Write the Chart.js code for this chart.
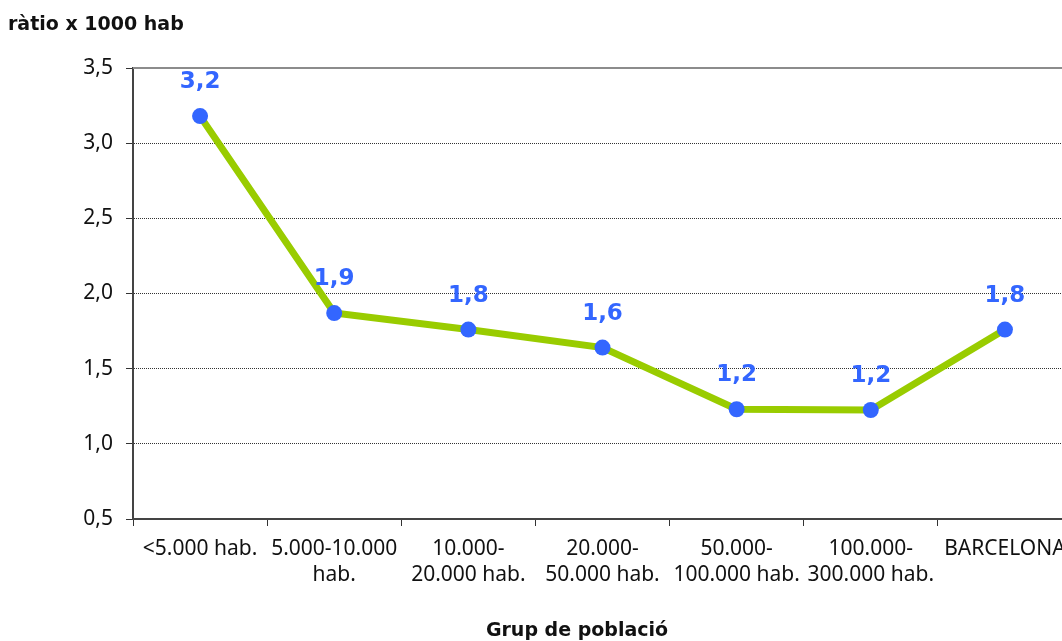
<!DOCTYPE html>
<html>
<head>
<meta charset="utf-8">
<script src="https://cdn.jsdelivr.net/npm/chart.js@4.4.1/dist/chart.umd.min.js"></script>
<style>
  html, body { margin: 0; padding: 0; background: #fff; overflow: hidden; }
  canvas { display: block; }
</style>
</head>
<body>
<canvas id="ratioChart" width="1080" height="641"></canvas>
<script>
// Data
var categories = [
  "<5.000 hab.",
  ["5.000-10.000", "hab."],
  ["10.000-", "20.000 hab."],
  ["20.000-", "50.000 hab."],
  ["50.000-", "100.000 hab."],
  ["100.000-", "300.000 hab."],
  "BARCELONA",
];
var ratioValues = [3.18, 1.87, 1.76, 1.64, 1.23, 1.225, 1.76];
var yTicks = [0.5, 1.0, 1.5, 2.0, 2.5, 3.0, 3.5];

var yTitle = "ràtio x 1000 hab";
var xTitle = "Grup de població";

var TICK_FONT = "'Noto Sans', 'DejaVu Sans', sans-serif";
var BOLD_FONT = "'DejaVu Sans', Verdana, sans-serif";

function fmt(v) {
  return v.toFixed(1).replace(".", ",");
}

// value labels above every point + titles + top frame line
var labelsPlugin = {
  id: "valueLabels",
  afterDatasetsDraw: function (chart) {
    var ctx = chart.ctx;
    var meta = chart.getDatasetMeta(0);
    ctx.save();
    ctx.font = "bold 23px " + BOLD_FONT;
    ctx.fillStyle = "#3366FF";
    ctx.textAlign = "center";
    ctx.textBaseline = "middle";
    meta.data.forEach(function (pt, i) {
      ctx.fillText(fmt(ratioValues[i]), pt.x, pt.y - 34);
    });
    ctx.restore();
  },
  afterDraw: function (chart) {
    var ctx = chart.ctx;
    var area = chart.chartArea;
    ctx.save();
    // grey top frame
    ctx.strokeStyle = "#8c8c8c";
    ctx.lineWidth = 2;
    ctx.beginPath();
    ctx.moveTo(area.left, area.top);
    ctx.lineTo(area.right, area.top);
    ctx.stroke();

    ctx.fillStyle = "#111";
    ctx.font = "bold 19px " + BOLD_FONT;
    ctx.textAlign = "left";
    ctx.textBaseline = "alphabetic";
    ctx.fillText(yTitle, 8, 30);
    ctx.textAlign = "center";
    ctx.fillText(xTitle, 577, 636);
    ctx.restore();
  },
};

var ctx = document.getElementById("ratioChart").getContext("2d");

var ratioChart = new Chart(ctx, {
  type: "line",
  data: {
    labels: categories,
    datasets: [
      {
        data: ratioValues,
        borderColor: "#99CC00",
        borderWidth: 7,
        pointRadius: 8,
        pointHoverRadius: 8,
        pointBackgroundColor: "#3366FF",
        pointBorderWidth: 0,
        tension: 0,
        fill: false,
      },
    ],
  },
  options: {
    responsive: false,
    animation: false,
    layout: { padding: { top: 68, right: 8, left: 0, bottom: 0 } },
    plugins: {
      legend: { display: false },
      tooltip: { enabled: false },
    },
    scales: {
      x: {
        offset: true,
        grid: {
          offset: true,
          drawOnChartArea: false,
          drawTicks: true,
          tickLength: 7,
          tickColor: "#333",
          tickWidth: 1,
        },
        border: { color: "#444", width: 2 },
        ticks: {
          color: "#111",
          font: { family: TICK_FONT, size: 21, lineHeight: 1.24 },
          padding: 10,
          maxRotation: 0,
          autoSkip: false,
        },
        afterFit: function (scale) {
          scale.height = 122;
        },
      },
      y: {
        min: 0.5,
        max: 3.5,
        afterBuildTicks: function (scale) {
          scale.ticks = yTicks.map(function (v) {
            return { value: v };
          });
        },
        grid: {
          color: "#333",
          lineWidth: 1,
          tickLength: 7,
          tickColor: "#333",
        },
        border: { color: "#444", width: 2, dash: [1, 1] },
        ticks: {
          color: "#111",
          font: { family: TICK_FONT, size: 21 },
          padding: 13,
          callback: function (v) {
            return fmt(v);
          },
        },
        afterFit: function (scale) {
          scale.width = 133;
        },
      },
    },
  },
  plugins: [labelsPlugin],
});
</script>
</body>
</html>
